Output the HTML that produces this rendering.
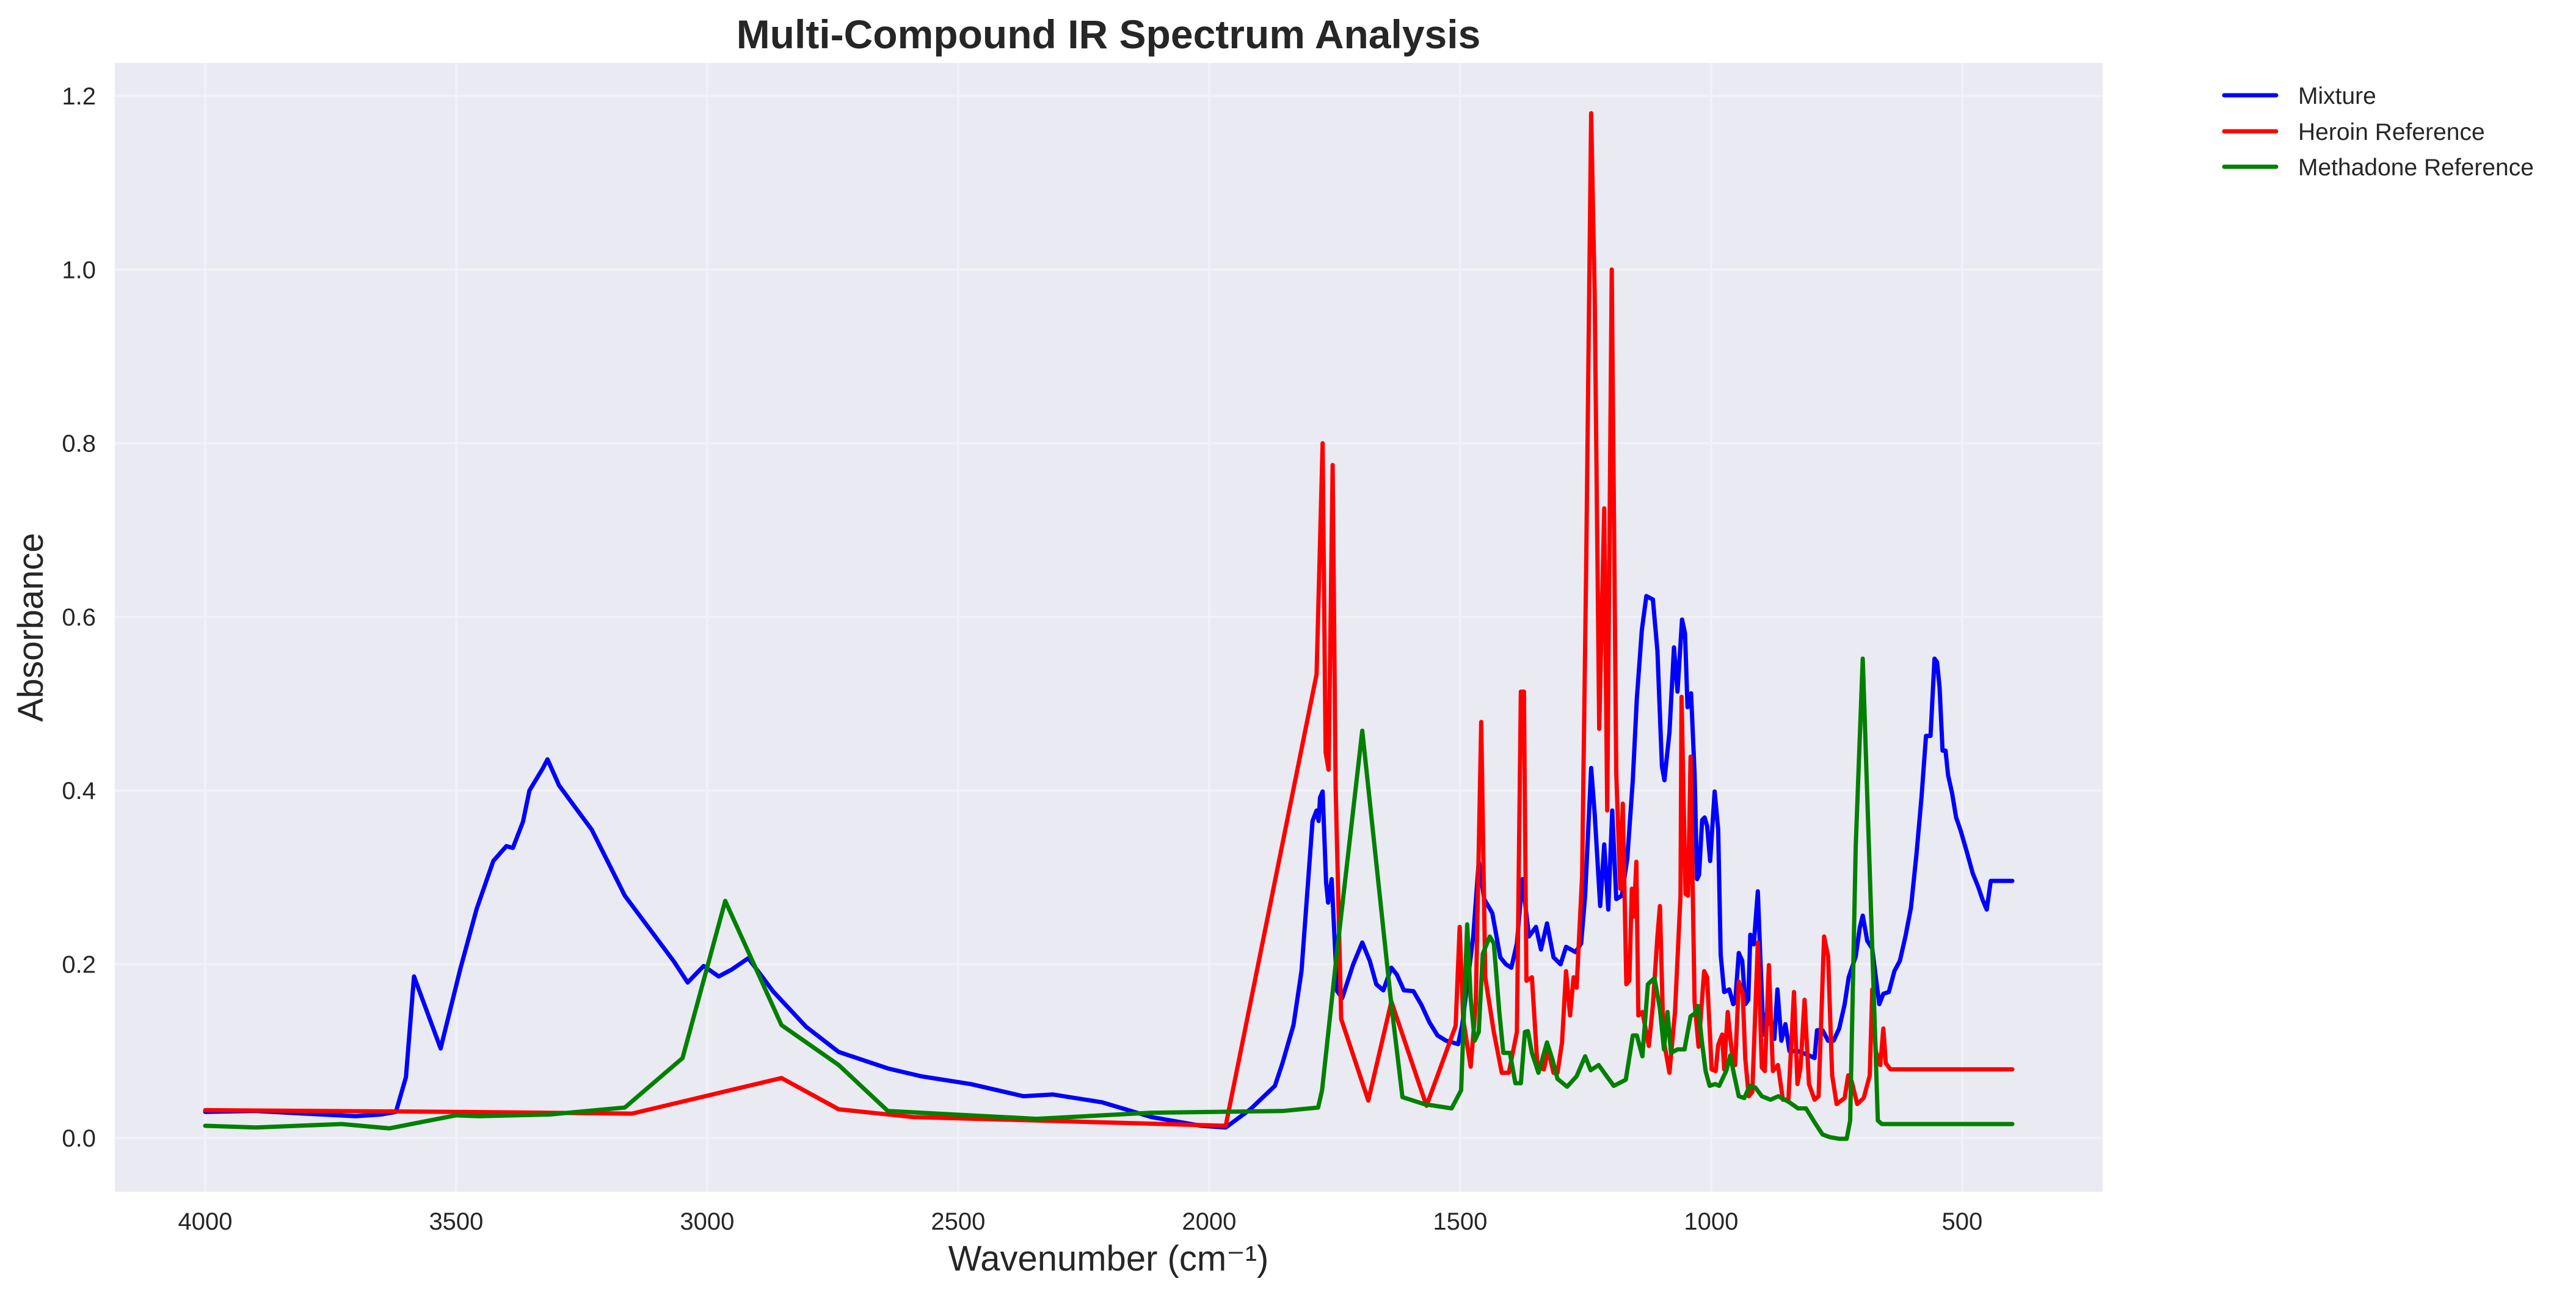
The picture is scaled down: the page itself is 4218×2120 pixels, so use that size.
<!DOCTYPE html>
<html><head><meta charset="utf-8"><style>
html,body{margin:0;padding:0;background:#fff;}
svg{display:block;font-family:"Liberation Sans",Arial,sans-serif;}
</style></head><body>
<svg id="chart" width="4218" height="2120" viewBox="0 0 4218 2120" xmlns="http://www.w3.org/2000/svg">
<rect x="0" y="0" width="4218" height="2120" fill="#ffffff"/>
<rect x="188" y="103" width="3255" height="1848" fill="#EAEAF2"/>
<g id="grid"></g>
<g id="ticks"></g>
<g id="series"></g>
<text x="1815" y="79" text-anchor="middle" font-size="66" font-weight="bold" fill="#262626">Multi-Compound IR Spectrum Analysis</text>
<text x="1815" y="2080" text-anchor="middle" font-size="58" fill="#262626">Wavenumber (cm⁻¹)</text>
<text x="70" y="1027" text-anchor="middle" font-size="58" fill="#262626" transform="rotate(-90 70 1027)">Absorbance</text>
<g>
 <g>
  <line x1="3642" y1="156" x2="3727" y2="156" stroke="#0000ff" stroke-width="7" stroke-linecap="round"/>
  <text x="3763" y="170" font-size="39" fill="#262626">Mixture</text>
 </g>
 <g>
  <line x1="3642" y1="215" x2="3727" y2="215" stroke="#ff0000" stroke-width="7" stroke-linecap="round"/>
  <text x="3763" y="229" font-size="39" fill="#262626">Heroin Reference</text>
 </g>
 <g>
  <line x1="3642" y1="273" x2="3727" y2="273" stroke="#008000" stroke-width="7" stroke-linecap="round"/>
  <text x="3763" y="287" font-size="39" fill="#262626">Methadone Reference</text>
 </g>
</g>
</svg>
<script>
const xTicks = [4000,3500,3000,2500,2000,1500,1000,500];
const yTicks = [0.0,0.2,0.4,0.6,0.8,1.0,1.2];
const yTickLabels = ["0.0","0.2","0.4","0.6","0.8","1.0","1.2"];

const mixtureW = [4000,3900,3800,3700,3650,3620,3600,3584,3531,3492,3459,3426,3400,3387,3367,3354,3328,3318,3295,3262,3230,3197,3164,3115,3066,3039,3007,2977,2951,2918,2869,2803,2738,2640,2574,2475,2370,2311,2213,2115,2016,1967,1918,1869,1854,1832,1816,1805,1794,1786,1782,1779,1774,1767,1763,1756,1745,1735,1713,1695,1680,1667,1653,1637,1626,1612,1593,1577,1561,1545,1528,1504,1496,1474,1463,1452,1436,1420,1409,1398,1387,1376,1363,1349,1339,1327,1314,1300,1289,1270,1259,1251,1239,1232,1221,1213,1205,1197,1189,1178,1167,1156,1148,1138,1129,1116,1107,1098,1093,1083,1074,1067,1058,1052,1047,1040,1033,1028,1024,1018,1013,1008,1002,993,986,981,974,964,956,952,945,938,932,926,922,915,907,903,896,888,874,868,860,852,844,827,805,794,789,778,767,756,745,734,726,712,704,698,689,679,672,665,657,646,635,624,613,602,591,581,572,563,555,550,545,539,533,528,520,512,503,490,479,468,459,451,443,400];
const mixtureA = [0.030,0.031,0.028,0.025,0.027,0.030,0.070,0.186,0.103,0.194,0.264,0.319,0.336,0.334,0.364,0.400,0.425,0.436,0.406,0.380,0.355,0.317,0.279,0.241,0.203,0.179,0.198,0.186,0.194,0.207,0.169,0.128,0.099,0.080,0.071,0.062,0.048,0.050,0.041,0.024,0.014,0.012,0.033,0.060,0.086,0.130,0.192,0.279,0.365,0.377,0.365,0.392,0.399,0.294,0.271,0.298,0.169,0.161,0.200,0.225,0.204,0.177,0.170,0.196,0.188,0.170,0.169,0.153,0.133,0.118,0.112,0.108,0.130,0.232,0.318,0.275,0.259,0.208,0.200,0.196,0.224,0.298,0.232,0.243,0.217,0.247,0.208,0.200,0.220,0.214,0.224,0.279,0.426,0.373,0.267,0.338,0.263,0.377,0.275,0.279,0.322,0.412,0.506,0.585,0.624,0.620,0.561,0.428,0.412,0.467,0.565,0.514,0.597,0.581,0.496,0.512,0.420,0.298,0.303,0.366,0.369,0.359,0.319,0.399,0.355,0.211,0.168,0.171,0.154,0.157,0.213,0.204,0.154,0.159,0.234,0.223,0.284,0.223,0.119,0.147,0.114,0.171,0.112,0.131,0.100,0.100,0.095,0.092,0.124,0.124,0.112,0.112,0.126,0.154,0.185,0.209,0.242,0.256,0.227,0.218,0.185,0.154,0.166,0.168,0.192,0.204,0.232,0.265,0.326,0.392,0.463,0.463,0.552,0.548,0.519,0.446,0.446,0.418,0.397,0.369,0.354,0.328,0.305,0.289,0.274,0.263,0.296,0.296];

const heroinW = [4000,3500,3150,2852,2738,2590,1967,1786,1774,1768,1762,1754,1748,1737,1683,1637,1567,1509,1501,1494,1479,1469,1458,1450,1433,1417,1403,1387,1379,1373,1368,1357,1346,1333,1325,1314,1306,1297,1289,1281,1274,1268,1257,1249,1239,1232,1223,1213,1207,1198,1189,1181,1176,1169,1163,1158,1154,1149,1145,1137,1124,1116,1107,1102,1095,1083,1072,1061,1059,1051,1046,1041,1033,1025,1014,1008,999,991,986,978,974,967,959,952,945,937,932,925,918,907,899,893,885,877,867,857,846,835,828,822,814,805,794,786,775,767,759,750,734,727,720,709,696,684,679,672,663,657,652,643,400];
const heroinA = [0.032,0.030,0.028,0.069,0.033,0.024,0.014,0.534,0.800,0.444,0.424,0.775,0.404,0.137,0.043,0.157,0.037,0.129,0.243,0.137,0.082,0.153,0.479,0.185,0.122,0.075,0.075,0.122,0.514,0.514,0.181,0.185,0.082,0.079,0.102,0.075,0.075,0.110,0.192,0.141,0.185,0.173,0.302,0.655,1.180,0.970,0.471,0.725,0.377,1.000,0.420,0.287,0.385,0.177,0.181,0.287,0.255,0.318,0.141,0.145,0.106,0.153,0.232,0.267,0.114,0.075,0.145,0.279,0.508,0.281,0.279,0.439,0.157,0.105,0.192,0.185,0.079,0.077,0.107,0.119,0.079,0.145,0.100,0.084,0.180,0.166,0.091,0.048,0.053,0.225,0.081,0.077,0.199,0.077,0.084,0.044,0.044,0.168,0.062,0.081,0.159,0.062,0.044,0.048,0.232,0.209,0.072,0.039,0.046,0.072,0.065,0.039,0.046,0.072,0.171,0.100,0.084,0.126,0.086,0.079,0.079];

const methadoneW = [4000,3899,3728,3633,3501,3455,3314,3164,3049,2964,2852,2738,2640,2344,2115,1854,1783,1775,1745,1695,1637,1615,1572,1517,1498,1486,1479,1471,1463,1455,1441,1433,1422,1414,1401,1390,1379,1371,1365,1357,1344,1327,1316,1306,1287,1268,1251,1240,1224,1208,1194,1170,1156,1148,1137,1126,1113,1102,1094,1087,1080,1067,1053,1041,1033,1026,1019,1011,1003,992,984,970,962,954,945,934,923,912,899,882,866,844,827,811,794,778,764,745,730,723,712,698,679,668,660,400];
const methadoneA = [0.014,0.012,0.016,0.011,0.026,0.025,0.027,0.035,0.092,0.273,0.130,0.084,0.031,0.022,0.029,0.031,0.035,0.055,0.216,0.469,0.153,0.047,0.039,0.034,0.055,0.246,0.161,0.112,0.122,0.212,0.232,0.224,0.145,0.098,0.098,0.063,0.063,0.122,0.123,0.098,0.075,0.110,0.090,0.068,0.059,0.071,0.094,0.078,0.084,0.071,0.060,0.067,0.118,0.118,0.094,0.177,0.184,0.149,0.102,0.145,0.098,0.102,0.102,0.140,0.143,0.152,0.114,0.077,0.060,0.062,0.060,0.077,0.095,0.072,0.048,0.046,0.060,0.058,0.048,0.044,0.048,0.041,0.034,0.034,0.018,0.004,0.001,-0.001,-0.001,0.020,0.336,0.552,0.218,0.020,0.016,0.016];

const L=188,R=3443,T=103,B=1951;
const X0=4180,X1=220,Y0=-0.062,Y1=1.238;
function xs(w){return L+(X0-w)/(X0-X1)*(R-L);}
function ys(a){return B-(a-Y0)/(Y1-Y0)*(B-T);}
const NS="http://www.w3.org/2000/svg";
const grid=document.getElementById('grid'), ticks=document.getElementById('ticks'), series=document.getElementById('series');

xTicks.forEach(function(t){
  const g=document.createElementNS(NS,'line');
  g.setAttribute('x1',xs(t));g.setAttribute('x2',xs(t));g.setAttribute('y1',T);g.setAttribute('y2',B);
  g.setAttribute('stroke','#f2f2f6');g.setAttribute('stroke-width','3.5');
  
  
  grid.appendChild(g);
  const tx=document.createElementNS(NS,'text');
  tx.setAttribute('x',xs(t));tx.setAttribute('y',2013);tx.setAttribute('text-anchor','middle');
  tx.setAttribute('font-size','40');tx.setAttribute('fill','#262626');
  tx.textContent=String(t);
  
  
  ticks.appendChild(tx);
});
yTicks.forEach(function(t,i){
  const g=document.createElementNS(NS,'line');
  g.setAttribute('x1',L);g.setAttribute('x2',R);g.setAttribute('y1',ys(t));g.setAttribute('y2',ys(t));
  g.setAttribute('stroke','#f2f2f6');g.setAttribute('stroke-width','3.5');
  
  
  grid.appendChild(g);
  const tx=document.createElementNS(NS,'text');
  tx.setAttribute('x',157);tx.setAttribute('y',ys(t)+14);tx.setAttribute('text-anchor','end');
  tx.setAttribute('font-size','40');tx.setAttribute('fill','#262626');
  tx.textContent=yTickLabels[i];
  
  
  ticks.appendChild(tx);
});
function drawLine(W,A,color,name){
  let d='';
  for(let i=0;i<W.length;i++){d+=(i?'L':'M')+xs(W[i]).toFixed(1)+','+ys(A[i]).toFixed(1);}
  const p=document.createElementNS(NS,'path');
  p.setAttribute('d',d);p.setAttribute('fill','none');p.setAttribute('stroke',color);
  p.setAttribute('stroke-width','7');p.setAttribute('stroke-linejoin','round');p.setAttribute('stroke-linecap','round');
  
  
  series.appendChild(p);
}
drawLine(mixtureW,mixtureA,'#0000ff','mixture-line');
drawLine(heroinW,heroinA,'#ff0000','heroin-reference-line');
drawLine(methadoneW,methadoneA,'#008000','methadone-reference-line');
</script>
</body></html>
